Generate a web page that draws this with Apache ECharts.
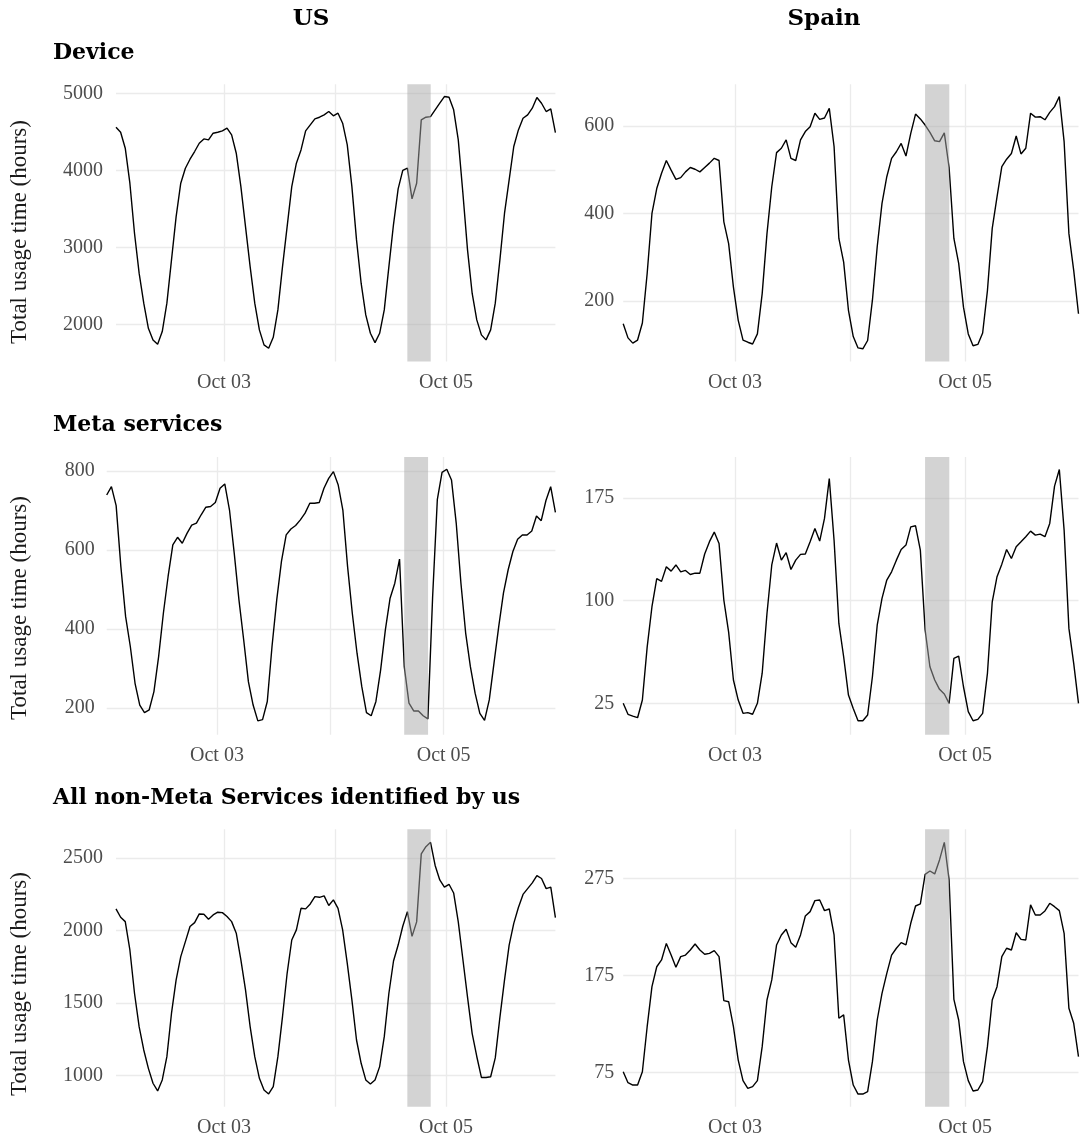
<!DOCTYPE html>
<html>
<head>
<meta charset="utf-8">
<script src="https://cdn.jsdelivr.net/npm/echarts@6/dist/echarts.min.js"></script>
<style>
html,body{margin:0;padding:0;background:#ffffff;}
#chart{width:1081px;height:1144px;}
</style>
</head>
<body>
<div id="chart"></div>
<script>
// ---- data (hourly) ----
const usDevice = [4562,4497,4289,3834,3184,2664,2274,1948,1797,1740,
  1905,2274,2837,3400,3834,4029,4146,4246,4354,4410,
  4397,4484,4497,4514,4549,4462,4224,3790,3270,2750,
  2274,1927,1732,1688,1831,2187,2750,3270,3790,4094,
  4267,4514,4592,4671,4692,4723,4766,4710,4744,4614,
  4332,3790,3097,2534,2122,1883,1762,1883,2187,2750,
  3300,3760,4000,4030,3630,3834,4657,4692,4700,4788,
  4874,4961,4952,4788,4397,3704,2967,2404,2057,1862,
  1797,1927,2274,2837,3444,3877,4311,4527,4679,4723,
  4809,4948,4874,4766,4801,4493];
const spainDevice = [148,116,104,111,150,263,400,457,492,521,
  499,478,482,495,505,501,495,505,515,526,
  521,381,331,232,156,111,106,102,125,217,
  354,461,539,549,568,526,521,568,587,598,
  629,615,618,640,553,343,289,179,119,93,
  91,110,202,324,423,484,526,541,560,531,
  583,627,616,602,585,566,564,584,505,343,
  286,186,125,98,101,127,224,366,438,507,
  524,537,577,536,549,629,620,621,614,631,
  644,667,564,354,270,171];
const usMeta = [739,760,712,558,432,356,263,208,189,196,
  242,331,440,533,613,632,617,642,663,668,
  689,708,710,720,756,767,701,592,474,373,
  267,208,168,171,217,356,474,571,638,653,
  662,676,693,718,718,720,756,781,798,765,
  701,558,440,339,255,189,181,217,297,398,
  478,516,577,305,213,193,193,181,173,480,
  727,796,804,777,668,516,390,305,238,187,
  169,221,314,406,491,550,596,627,638,638,
  648,686,674,725,760,695];
const spainMeta = [25,17,15.7,14.5,27.4,66,95.5,116,114,124.7,
  121.5,126,121,122,119,120,120,134,143,150,
  141.7,100.4,77,42,27.4,17.7,18.2,17,25,47,
  90.6,126,142,129.5,135,122.7,129.5,133.7,134,143,
  152.6,143.4,160,189,144,83.3,59,31,21.3,12.3,
  12.3,16.5,44.4,82,101.6,115,121,129.5,137.3,140.5,
  153.8,154.6,136.8,78.5,51.7,42,35.2,31.8,25,57.8,
  59.5,37.1,18.9,12.3,13.3,17.7,46.9,99.1,117.4,126.6,
  137.3,130.7,139.3,142.9,146.6,150.7,147.8,148.5,146.6,156.3,
  183.5,195.7,151.4,79.7,54.2,25];
const usNonMeta = [2150,2092,2062,1866,1567,1336,1175,1048,945,892,
  968,1129,1429,1659,1820,1924,2028,2055,2115,2113,
  2078,2108,2127,2124,2097,2062,1982,1797,1590,1336,
  1129,979,899,871,922,1129,1406,1705,1935,2005,
  2154,2150,2184,2235,2230,2240,2173,2212,2154,2005,
  1774,1521,1244,1083,968,940,968,1060,1267,1567,
  1790,1900,2030,2131,1960,2060,2530,2580,2610,2450,
  2350,2300,2320,2260,2060,1800,1540,1290,1130,985,
  985,990,1120,1400,1660,1900,2050,2160,2250,2290,
  2330,2380,2360,2290,2300,2090];
const spainNonMeta = [76,64.7,62.3,62.3,76,122.3,163.5,184,191,208,
  196,183.4,194.4,196,201.2,207.4,201.2,196.8,197.8,200.6,
  194.4,149.1,148,122.3,88,66.8,58.9,60.6,66.8,101.8,
  149.8,170.4,206.4,216.7,222.5,208.8,204,216.7,236.2,240.7,
  252,252.7,241.7,243.4,216.7,131,134.4,88,62.3,53,
  53,55.4,86.3,129.2,156.6,177.2,196,203,208.8,206.4,
  228.7,246.5,248.6,279.1,282.5,279.5,293.9,312,273.3,150.5,
  129.2,86.3,66.8,56.1,57.2,65.7,101.8,149.8,163.5,194.4,
  203,201.2,219,212.2,211.5,247.6,237.3,237.3,241.4,249.3,
  245.8,241.7,218.4,141.2,125.8,91.5];

// time: hours after Oct 02 00:00 UTC; one observation per hour
const startHour = 0.66;
const hours = usDevice.map((_, i) => startHour + i);
const outage = [63.65, 68.7];          // shaded outage window (hours)

// tick labels
const xTickHours = [24, 48, 72];
const xLabelHours = [24, 72];
const xLabelTexts = ['Oct 03', 'Oct 05'];
const usDeviceTicks = [2000, 3000, 4000, 5000];
const spainDeviceTicks = [200, 400, 600];
const usMetaTicks = [200, 400, 600, 800];
const spainMetaTicks = [25, 100, 175];
const usNonMetaTicks = [1000, 1500, 2000, 2500];
const spainNonMetaTicks = [75, 175, 275];

// text
const columnTitles = ['US', 'Spain'];
const rowTitles = ['Device', 'Meta services', 'All non-Meta Services identified by us'];
const yTitle = 'Total usage time (hours)';

// ---- layout ----
const rowTop = [84.3, 457, 829.3];
const rowH = [277.2, 277.7, 277.4];
const panels = [
  {values: usDevice,     ticks: usDeviceTicks,     min: 1516, max: 5120, left: 116,   width: 439.4, row: 0, labelMargin: 13},
  {values: spainDevice,  ticks: spainDeviceTicks,  min: 62,   max: 695,  left: 623.2, width: 455.3, row: 0, labelMargin: 9},
  {values: usMeta,       ticks: usMetaTicks,       min: 133,  max: 835,  left: 106.7, width: 448.7, row: 1, labelMargin: 12},
  {values: spainMeta,    ticks: spainMetaTicks,    min: 2.1,  max: 204.8,left: 623.2, width: 455.3, row: 1, labelMargin: 9},
  {values: usNonMeta,    ticks: usNonMetaTicks,    min: 783,  max: 2700, left: 116,   width: 439.4, row: 2, labelMargin: 13},
  {values: spainNonMeta, ticks: spainNonMetaTicks, min: 40,   max: 325.4,left: 623.2, width: 455.3, row: 2, labelMargin: 9}
];

const tickFont = {fontFamily: '"Liberation Serif", serif', fontSize: 20, color: '#4d4d4d'};
const gridColor = '#ebebeb';

const grids = [], xAxes = [], yAxes = [], series = [];
panels.forEach((p, i) => {
  grids.push({left: p.left, top: rowTop[p.row], width: p.width, height: rowH[p.row],
              containLabel: false, outerBoundsMode: 'none'});
  xAxes.push({
    type: 'value', gridIndex: i, min: hours[0], max: hours[hours.length - 1],
    axisLine: {show: false},
    axisTick: {show: false, customValues: xTickHours},
    axisLabel: Object.assign({customValues: xLabelHours, margin: 11,
      formatter: v => { const j = xLabelHours.indexOf(v); return j >= 0 ? xLabelTexts[j] : ''; }}, tickFont),
    splitLine: {show: true, lineStyle: {color: gridColor, width: 1.3}}
  });
  yAxes.push({
    type: 'value', gridIndex: i, min: p.min, max: p.max,
    axisLine: {show: false},
    axisTick: {show: false, customValues: p.ticks},
    axisLabel: Object.assign({customValues: p.ticks, margin: p.labelMargin,
      formatter: v => String(v)}, tickFont),
    splitLine: {show: true, lineStyle: {color: gridColor, width: 1.3}}
  });
  series.push({
    type: 'line', xAxisIndex: i, yAxisIndex: i, showSymbol: false, silent: true,
    data: hours.map((h, k) => [h, p.values[k]]),
    lineStyle: {color: '#000000', width: 1.4}, z: 2
  });
  series.push({
    type: 'custom', xAxisIndex: i, yAxisIndex: i, silent: true, z: 5,
    data: [outage],
    renderItem: (params, api) => {
      const cs = params.coordSys;
      const a = api.coord([api.value(0), p.min])[0];
      const b = api.coord([api.value(1), p.min])[0];
      return {type: 'rect', shape: {x: a, y: cs.y, width: b - a, height: cs.height},
              style: {fill: 'rgba(168,168,168,0.5)'}};
    }
  });
});

const titleFont = 'bold 22px "DejaVu Serif", serif';
const graphic = [
  {type: 'text', x: 311, y: 19, style: {text: columnTitles[0], font: 'bold 23px "DejaVu Serif", serif', fill: '#000', align: 'center', verticalAlign: 'middle'}},
  {type: 'text', x: 824, y: 19, style: {text: columnTitles[1], font: 'bold 23px "DejaVu Serif", serif', fill: '#000', align: 'center', verticalAlign: 'middle'}},
  {type: 'text', x: 53, y: 53.3, style: {text: rowTitles[0], font: titleFont, fill: '#000', align: 'left', verticalAlign: 'middle'}},
  {type: 'text', x: 53, y: 425.3, style: {text: rowTitles[1], font: titleFont, fill: '#000', align: 'left', verticalAlign: 'middle'}},
  {type: 'text', x: 53, y: 798.3, style: {text: rowTitles[2], font: titleFont, fill: '#000', align: 'left', verticalAlign: 'middle'}}
];
[232, 608, 984].forEach(cy => {
  graphic.push({type: 'text', x: 19.5, y: cy, rotation: Math.PI / 2,
    style: {text: yTitle, font: '23px "Liberation Serif", serif', fill: '#1a1a1a', align: 'center', verticalAlign: 'middle'}});
});

const chart = echarts.init(document.getElementById('chart'), null, {renderer: 'canvas'});
chart.setOption({
  animation: false,
  backgroundColor: '#ffffff',
  grid: grids, xAxis: xAxes, yAxis: yAxes, series: series, graphic: graphic
});
</script>
</body>
</html>
